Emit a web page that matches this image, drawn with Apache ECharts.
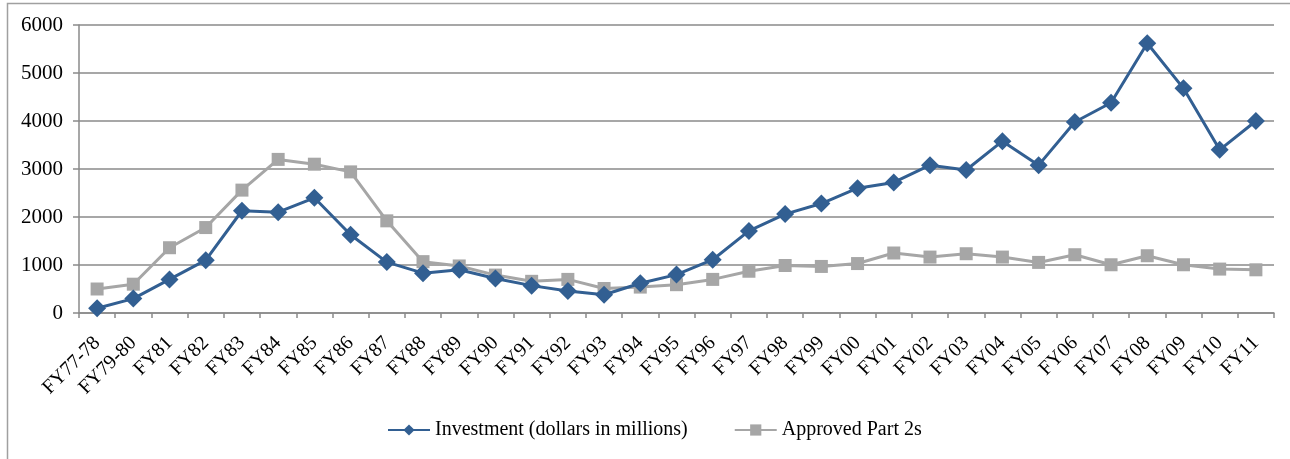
<!DOCTYPE html>
<html>
<head>
<meta charset="utf-8">
<script src="https://cdn.jsdelivr.net/npm/echarts@6/dist/echarts.min.js"></script>
<style>
html,body{margin:0;padding:0;background:#fff;}
#c{width:1290px;height:459px;}
</style>
</head>
<body>
<div id="c"></div>
<script>
const categories = ['FY77-78','FY79-80','FY81','FY82','FY83','FY84','FY85','FY86','FY87','FY88','FY89','FY90','FY91','FY92','FY93','FY94','FY95','FY96','FY97','FY98','FY99','FY00','FY01','FY02','FY03','FY04','FY05','FY06','FY07','FY08','FY09','FY10','FY11'];
const investment = [100,300,700,1100,2130,2100,2400,1630,1060,830,900,720,570,460,380,620,800,1110,1710,2060,2280,2600,2720,3080,2980,3580,3080,3980,4380,5620,4680,3400,4000];
const approvedPart2s = [500,600,1360,1780,2560,3200,3100,2940,1920,1070,980,790,660,700,510,540,590,700,870,990,970,1030,1250,1165,1235,1165,1054,1214,1005,1193,1005,915,900];
const yTicks = {min:0, max:6000, interval:1000};

const FONT = '"Liberation Serif", "Times New Roman", serif';
const chart = echarts.init(document.getElementById('c'), null, {renderer:'canvas'});
chart.setOption({
  animation:false,
  backgroundColor:'#fff',
  graphic:[{
    type:'rect', shape:{x:7.5,y:3.5,width:1300,height:500},
    style:{fill:'none', stroke:'#a0a0a0', lineWidth:1.5}, silent:true
  }],
  grid:{left:79, right:16, top:25, bottom:146, containLabel:false},
  legend:{
    bottom:14, left:382,
    itemWidth:42, itemHeight:14, itemGap:46, padding:[5,5,5,5],
    textStyle:{fontFamily:FONT, fontSize:20, color:'#000'},
    data:['Investment (dollars in millions)','Approved Part 2s']
  },
  xAxis:{
    type:'category', data:categories, boundaryGap:true,
    axisLine:{lineStyle:{color:'#8a8a8a', width:1.5}},
    axisTick:{show:true, length:5, lineStyle:{color:'#8a8a8a', width:1.5}, alignWithLabel:false},
    axisLabel:{interval:0, rotate:45, margin:27, fontFamily:FONT, fontSize:20, color:'#000'}
  },
  yAxis:{
    type:'value', min:yTicks.min, max:yTicks.max, interval:yTicks.interval,
    axisLine:{show:true, lineStyle:{color:'#8a8a8a', width:1.5}},
    axisTick:{show:true, length:6, lineStyle:{color:'#8a8a8a', width:1.5}},
    splitLine:{show:true, lineStyle:{color:'#8a8a8a', width:1.5}},
    axisLabel:{margin:16, fontFamily:FONT, fontSize:21, color:'#000', formatter:function(v){return String(v);}}
  },
  series:[
    {
      name:'Investment (dollars in millions)', type:'line', data:investment,
      symbol:'diamond', symbolSize:[18,18], z:3,
      lineStyle:{color:'#325F92', width:3},
      itemStyle:{color:'#325F92'}
    },
    {
      name:'Approved Part 2s', type:'line', data:approvedPart2s,
      symbol:'rect', symbolSize:13, z:2,
      lineStyle:{color:'#A6A6A6', width:3},
      itemStyle:{color:'#A6A6A6'}
    }
  ]
});
</script>
</body>
</html>
